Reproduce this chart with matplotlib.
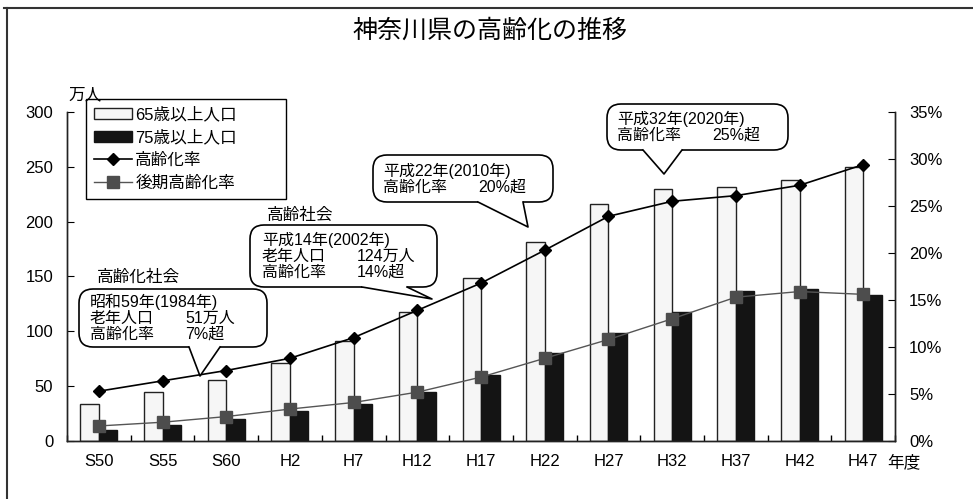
import numpy as np
import matplotlib
matplotlib.use('Agg')
import matplotlib.pyplot as plt
from matplotlib.patches import FancyBboxPatch, Polygon
from matplotlib.ticker import FuncFormatter

plt.rcParams['font.family'] = ['Liberation Sans', 'Noto Sans CJK JP']

# data
categories = ['S50', 'S55', 'S60', 'H2', 'H7', 'H12', 'H17', 'H22', 'H27', 'H32', 'H37', 'H42', 'H47']
pop65 = [33.7, 44.4, 55.6, 70.8, 91.5, 117.3, 148.3, 181.8, 215.8, 229.5, 231.6, 238.0, 250.1]
pop75 = [10.0, 14.6, 19.8, 27.0, 33.7, 44.4, 60.2, 80.0, 98.2, 117.9, 137.1, 138.9, 132.8]
rate = [5.3, 6.4, 7.5, 8.8, 11.0, 13.9, 16.8, 20.3, 23.9, 25.5, 26.1, 27.2, 29.4]
late_rate = [1.6, 2.0, 2.6, 3.4, 4.1, 5.2, 6.8, 8.8, 10.8, 13.0, 15.3, 15.9, 15.6]

labels = ['65歳以上人口', '75歳以上人口', '高齢化率', '後期高齢化率']
title = '神奈川県の高齢化の推移'

fs = 12
cfs = 11.5  # callout text

fig = plt.figure(figsize=(9.73, 4.99), dpi=100)
ax = fig.add_axes([0.0689, 0.1162, 0.851, 0.6594])
ax2 = ax.twinx()

x = np.arange(len(categories))
w = 0.29
b1 = ax.bar(x - w / 2, pop65, width=w, color='#f6f6f6', edgecolor='#222222', linewidth=1, label=labels[0])
b2 = ax.bar(x + w / 2, pop75, width=w, color='#141414', edgecolor='#141414', linewidth=1, label=labels[1])

l1, = ax2.plot(x, rate, color='black', lw=1.2, marker='D', markersize=6.5, label=labels[2])
l2, = ax2.plot(x, late_rate, color='#555555', lw=1, marker='s', markersize=8,
               markerfacecolor='#4d4d4d', markeredgecolor='#4d4d4d', label=labels[3])

ax.set_xlim(-0.5, len(categories) - 0.5)
ax.set_ylim(0, 300)
ax.set_yticks(range(0, 301, 50))
ax2.set_ylim(0, 35)
ax2.set_yticks(range(0, 36, 5))
ax2.yaxis.set_major_formatter(FuncFormatter(lambda v, p: '%d%%' % v))

ax.set_xticks(x)
ax.set_xticklabels(categories)
ax.set_xticks(np.arange(-0.5, len(categories), 1), minor=True)
ax.tick_params(axis='x', which='major', length=0, pad=9, labelsize=fs)
ax.tick_params(axis='x', which='minor', direction='in', length=4, width=1)
ax.tick_params(axis='y', direction='in', length=5, pad=10, labelsize=fs)
ax2.tick_params(axis='y', direction='in', length=5, pad=10, labelsize=fs)

for a in (ax, ax2):
    a.spines['top'].set_visible(False)
    for s in ('left', 'right', 'bottom'):
        a.spines[s].set_color('#222222')
        a.spines[s].set_linewidth(1)

leg = ax2.legend([b1, b2, l1, l2], labels, loc='upper left',
                 bbox_to_anchor=(0.023, 0.7264, 0.2415, 0.313), mode='expand',
                 borderaxespad=0, fancybox=False, edgecolor='black', framealpha=1,
                 fontsize=fs, handlelength=2.3, labelspacing=0.45, handletextpad=0.2,
                 borderpad=0.45)
leg.get_frame().set_linewidth(1)

# overlay in pixel coordinates for the frame, labels and callouts
ov = fig.add_axes([0, 0, 1, 1], zorder=5)
ov.set_xlim(0, 973)
ov.set_ylim(499, 0)
ov.axis('off')
ov.patch.set_alpha(0)

ov.plot([4, 973], [8, 8], color='#333333', lw=1.5)
ov.plot([7, 7], [8, 499], color='#333333', lw=1.5)

ov.text(490, 31, title, fontsize=18, ha='center', va='center')
ov.text(68, 95, '万人', fontsize=fs, ha='left', va='center')
ov.text(887, 462, '年度', fontsize=fs, ha='left', va='center')
ov.text(97, 277, '高齢化社会', fontsize=12, ha='left', va='center')
ov.text(267, 215, '高齢社会', fontsize=12, ha='left', va='center')


def bubble(x0, y0, x1, y1, base, tip):
    box = FancyBboxPatch((x0, y0), x1 - x0, y1 - y0,
                         boxstyle='round,pad=0,rounding_size=14',
                         facecolor='white', edgecolor='black', lw=1.2, zorder=1)
    ov.add_patch(box)
    (bx1, bx2) = base
    poly = Polygon([(bx1, y1 - 2), (bx1, y1), tip, (bx2, y1), (bx2, y1 - 2)],
                   closed=True, facecolor='white', edgecolor='none', zorder=2)
    ov.add_patch(poly)
    ov.plot([bx1, tip[0], bx2], [y1, tip[1], y1], color='black', lw=1.2, zorder=3)


bubble(79, 289, 267, 347, (189, 220), (200, 376))
ov.text(90, 302, '昭和59年(1984年)', fontsize=cfs, va='center', zorder=4)
ov.text(90, 318, '老年人口', fontsize=cfs, va='center', zorder=4)
ov.text(185, 318, '51万人', fontsize=cfs, va='center', zorder=4)
ov.text(90, 334, '高齢化率', fontsize=cfs, va='center', zorder=4)
ov.text(185, 334, '7%超', fontsize=cfs, va='center', zorder=4)

bubble(250, 225, 437, 287, (362, 407), (432, 299))
ov.text(262, 240, '平成14年(2002年)', fontsize=cfs, va='center', zorder=4)
ov.text(262, 256, '老年人口', fontsize=cfs, va='center', zorder=4)
ov.text(357, 256, '124万人', fontsize=cfs, va='center', zorder=4)
ov.text(262, 272, '高齢化率', fontsize=cfs, va='center', zorder=4)
ov.text(357, 272, '14%超', fontsize=cfs, va='center', zorder=4)

bubble(373, 155, 553, 202, (478, 523), (528, 227))
ov.text(383, 171, '平成22年(2010年)', fontsize=cfs, va='center', zorder=4)
ov.text(383, 187, '高齢化率', fontsize=cfs, va='center', zorder=4)
ov.text(478, 187, '20%超', fontsize=cfs, va='center', zorder=4)

bubble(607, 104, 788, 150, (643, 682), (664, 174))
ov.text(617, 119, '平成32年(2020年)', fontsize=cfs, va='center', zorder=4)
ov.text(617, 135, '高齢化率', fontsize=cfs, va='center', zorder=4)
ov.text(712, 135, '25%超', fontsize=cfs, va='center', zorder=4)

fig.savefig('out.png', dpi=100)
